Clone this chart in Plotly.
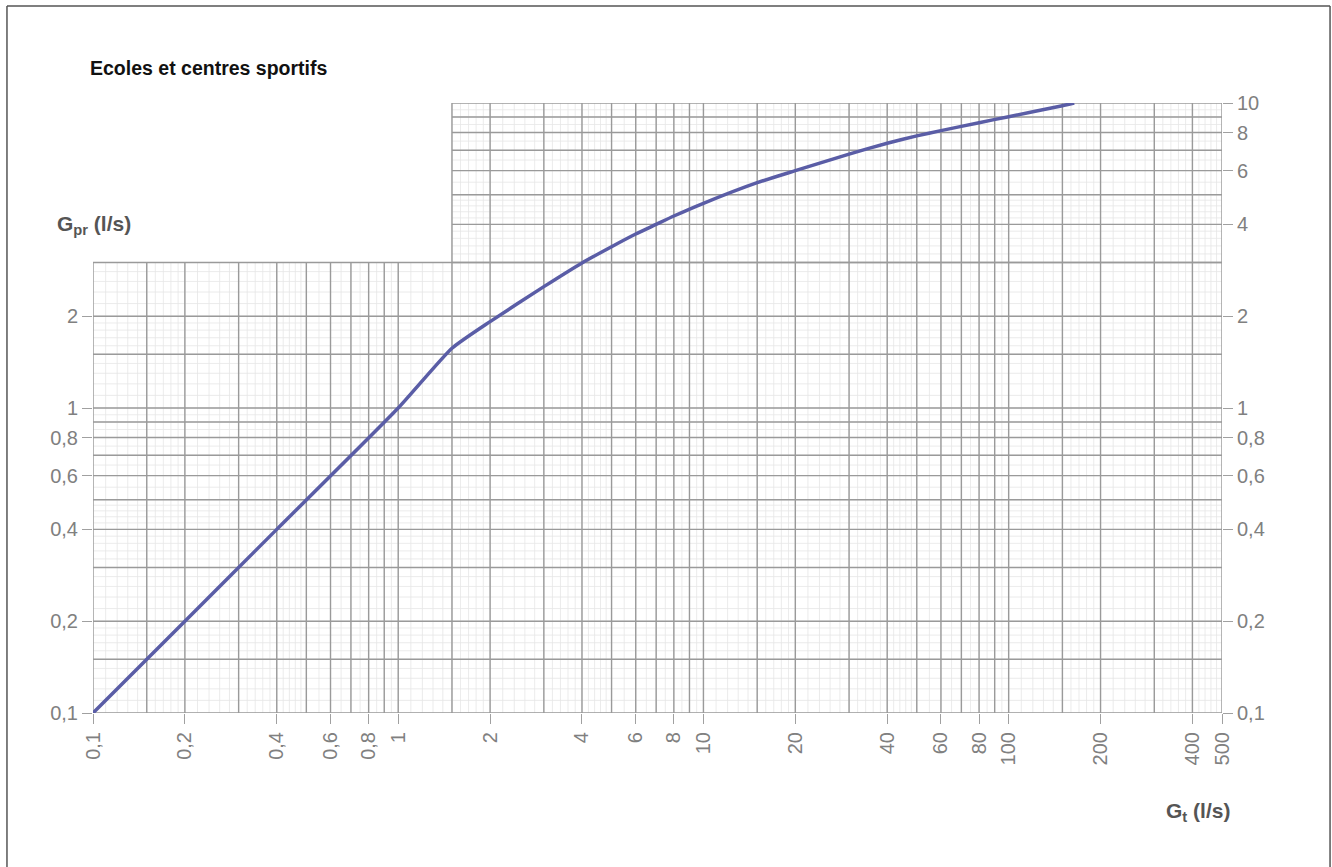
import plotly.graph_objects as go

# ---- data ----
gt = [0.1, 0.2, 0.4, 1, 1.5, 2, 3, 4, 5, 6, 7, 8, 10, 15, 20, 30, 40, 50, 60, 80, 100, 150, 164]
gpr = [0.1, 0.2, 0.4, 1, 1.57, 1.92, 2.5, 2.99, 3.38, 3.72, 4.0, 4.26, 4.69, 5.48, 6.0, 6.8, 7.38,
       7.8, 8.12, 8.62, 9.02, 9.8, 10.0]

x_tickvals = [0.1, 0.2, 0.4, 0.6, 0.8, 1, 2, 4, 6, 8, 10, 20, 40, 60, 80, 100, 200, 400, 500]
x_ticktext = ["0,1", "0,2", "0,4", "0,6", "0,8", "1", "2", "4", "6", "8", "10", "20", "40", "60",
              "80", "100", "200", "400", "500"]
yl_tickvals = [0.1, 0.2, 0.4, 0.6, 0.8, 1, 2]
yl_ticktext = ["0,1", "0,2", "0,4", "0,6", "0,8", "1", "2"]
yr_tickvals = [0.1, 0.2, 0.4, 0.6, 0.8, 1, 2, 4, 6, 8, 10]
yr_ticktext = ["0,1", "0,2", "0,4", "0,6", "0,8", "1", "2", "4", "6", "8", "10"]

# grid definitions (stepped log paper)
x_grid_low = [0.1, 0.15, 0.2, 0.3, 0.4, 0.5, 0.6, 0.7, 0.8, 0.9, 1]
x_grid_high = [1.5, 2, 3, 4, 5, 6, 7, 8, 9, 10, 15, 20, 30, 40, 50, 60, 70, 80, 90, 100, 150, 200,
               300, 400, 500]
y_grid_low = [0.1, 0.15, 0.2, 0.3, 0.4, 0.5, 0.6, 0.7, 0.8, 0.9, 1, 1.5, 2, 3]
y_grid_high = [3, 4, 5, 6, 7, 8, 9, 10]
x_min, x_step, x_max = 0.1, 1.5, 500
y_min, y_step, y_max = 0.1, 3, 10


def minor_vals(lo, hi):
    vals = []
    dec = lo
    while dec < hi:
        for k in range(10, 100):
            v = dec * k / 10
            step = 1 if k < 20 else (2 if k < 50 else 5)
            if (k - 10) % step == 0 and lo <= v <= hi:
                vals.append(round(v, 6))
        dec *= 10
    return vals


def vlines(xs, y0, y1):
    X, Y = [], []
    for v in xs:
        X += [v, v, None]
        Y += [y0, y1, None]
    return X, Y


def hlines(ys, x0, x1):
    X, Y = [], []
    for v in ys:
        X += [x0, x1, None]
        Y += [v, v, None]
    return X, Y


fig = go.Figure()

# faint minor grid
mx = minor_vals(0.1, 500)
my = minor_vals(0.1, 10)
mxl = [v for v in mx if v <= x_step]
mxh = [v for v in mx if v >= x_step]
myl = [v for v in my if v <= y_step]
myh = [v for v in my if v >= y_step]
minor_col = "#e6e6e6"
for (X, Y) in [vlines(mxl, y_min, y_step), vlines(mxh, y_min, y_max),
               hlines(myl, x_min, x_max), hlines(myh, x_step, x_max)]:
    fig.add_trace(go.Scatter(x=X, y=Y, mode="lines", line=dict(color=minor_col, width=0.8),
                             hoverinfo="skip", showlegend=False))

# main grid
major_col = "#9a9a9a"
for (X, Y) in [vlines(x_grid_low, y_min, y_step), vlines(x_grid_high, y_min, y_max),
               hlines(y_grid_low, x_min, x_max), hlines(y_grid_high, x_step, x_max)]:
    fig.add_trace(go.Scatter(x=X, y=Y, mode="lines", line=dict(color=major_col, width=1.4),
                             hoverinfo="skip", showlegend=False))

# curve
fig.add_trace(go.Scatter(x=gt, y=gpr, mode="lines",
                         line=dict(color="#5a5da6", width=3.5, shape="spline", smoothing=0.5),
                         showlegend=False, hoverinfo="x+y"))

# dummy trace for right axis
fig.add_trace(go.Scatter(x=[x_max], y=[y_max], yaxis="y2", mode="markers",
                         marker=dict(opacity=0), hoverinfo="skip", showlegend=False))

tickfont = dict(family="Liberation Sans, Arial, sans-serif", size=20, color="#808080")

fig.update_layout(
    width=1332, height=867,
    margin=dict(l=93, r=110, t=103, b=154),
    paper_bgcolor="white", plot_bgcolor="white",
    xaxis=dict(type="log", range=[-1, 2.69897], showgrid=False, zeroline=False, showline=False,
               tickmode="array", tickvals=x_tickvals, ticktext=x_ticktext, tickangle=-90,
               ticks="outside", ticklen=10, tickcolor="#a0a0a0", tickwidth=1.2,
               tickfont=tickfont),
    yaxis=dict(type="log", range=[-1, 1], showgrid=False, zeroline=False, showline=False,
               tickmode="array", tickvals=yl_tickvals, ticktext=yl_ticktext,
               ticks="outside", ticklen=10, tickcolor="#a0a0a0", tickwidth=1.2,
               tickfont=tickfont),
    yaxis2=dict(type="log", range=[-1, 1], overlaying="y", side="right", showgrid=False,
                zeroline=False, showline=False, tickmode="array", tickvals=yr_tickvals,
                ticktext=yr_ticktext, ticks="outside", ticklen=10, tickcolor="#a0a0a0",
                tickwidth=1.2, tickfont=tickfont),
    annotations=[
        dict(text="<b>Ecoles et centres sportifs</b>", xref="paper", yref="paper",
             x=-0.0045, y=1.057, xanchor="left", yanchor="middle", showarrow=False,
             font=dict(family="Liberation Sans, Arial, sans-serif", size=19.5, color="#111111")),
        dict(text="<b>G<sub>pr</sub> (l/s)</b>", xref="paper", yref="paper",
             x=-0.034, y=0.80, xanchor="left", yanchor="middle", showarrow=False,
             font=dict(family="Liberation Sans, Arial, sans-serif", size=21, color="#555555")),
        dict(text="<b>G<sub>t</sub> (l/s)</b>", xref="paper", yref="paper",
             x=1.009, y=-0.162, xanchor="right", yanchor="middle", showarrow=False,
             font=dict(family="Liberation Sans, Arial, sans-serif", size=21, color="#555555")),
    ],
    shapes=[
        dict(type="line", xref="paper", yref="paper", x0=-0.0762, x1=-0.0762, y0=-0.6, y1=1.159,
             line=dict(color="#555555", width=1.5)),
        dict(type="line", xref="paper", yref="paper", x0=-0.0762, x1=1.0957, y0=1.159, y1=1.159,
             line=dict(color="#555555", width=1.5)),
        dict(type="line", xref="paper", yref="paper", x0=1.0957, x1=1.0957, y0=-0.6, y1=1.159,
             line=dict(color="#555555", width=1.5)),
    ],
)

fig.write_html("out.html", config={"displayModeBar": False},
               post_script="document.body.style.margin='0px';")
